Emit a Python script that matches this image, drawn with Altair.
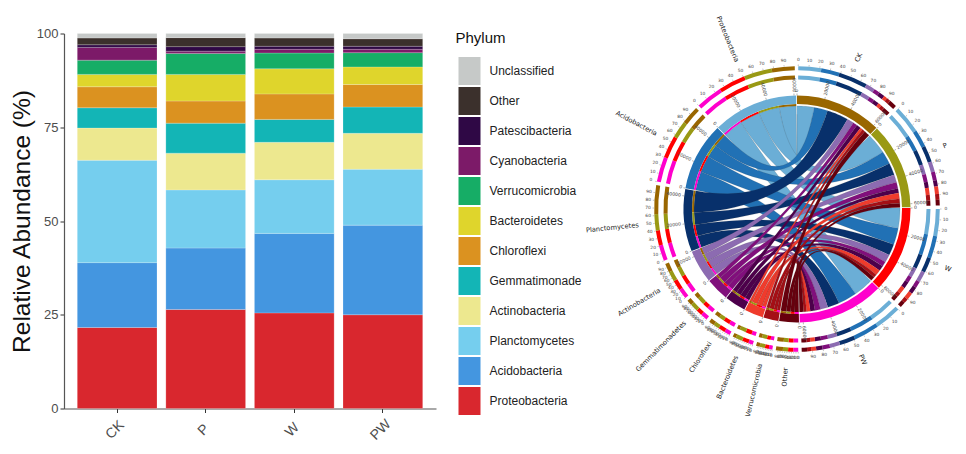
import math
import altair as alt
import pandas as pd

samples = ["CK", "P", "W", "PW"]
phyla_top = ["Unclassified", "Other", "Patescibacteria", "Cyanobacteria", "Verrucomicrobia", "Bacteroidetes",
             "Chloroflexi", "Gemmatimonadetes", "Actinobacteria", "Planctomycetes", "Acidobacteria", "Proteobacteria"]
bar_colors = ["#c6c9c8", "#3b302c", "#2f0845", "#7c1a68", "#16ad66", "#dfd52c",
              "#db9220", "#13b5b6", "#ede88f", "#75ceee", "#4496e0", "#d9272e"]
# percent per sample, bottom of the stack first
ck = [21.6, 17.3, 27.3, 8.6, 5.4, 5.6, 3.3, 3.8, 3.4, 0.7, 1.8, 1.2]
p_ = [26.4, 16.4, 15.5, 9.8, 8.0, 5.9, 7.1, 5.6, 0.6, 1.2, 2.4, 1.1]
w_ = [25.5, 21.2, 14.3, 10.0, 6.1, 6.8, 6.7, 4.2, 1.0, 0.8, 2.2, 1.2]
pw = [25.0, 23.9, 14.9, 9.6, 7.0, 6.0, 4.7, 3.8, 0.9, 0.8, 2.0, 1.4]
table = dict(zip(samples, [ck, p_, w_, pw]))

chord_phyla = ["Proteobacteria", "Acidobacteria", "Planctomycetes", "Actinobacteria", "Gemmatimonadetes",
               "Chloroflexi", "Bacteroidetes", "Verrucomicrobia", "Other"]
chord_colors = ["#6baed6", "#2171b5", "#08306b", "#8c6bb1", "#810f7c", "#4d004b", "#ef3b2c", "#a50f15", "#67000d"]
sample_colors = ["#996600", "#999914", "#ff0000", "#ff00cc"]
counts_per_pct = 625
main_ticks = [0, 20000, 40000, 60000]
pct_ticks = [0, 10, 20, 30, 40, 50, 60, 70, 80, 90]

FONT = "Liberation Sans"
FONT2 = "DejaVu Sans"

# ---------- left: stacked bars ----------
bottom_first = phyla_top[::-1]
rows = []
for s in samples:
    for i, ph in enumerate(bottom_first):
        rows.append({"sample": s, "phylum": ph, "value": table[s][i], "rank": i})
bars = alt.Chart(pd.DataFrame(rows)).mark_bar(stroke="white", strokeWidth=0.4, strokeOpacity=0.5).encode(
    x=alt.X("sample:N", sort=samples,
            scale=alt.Scale(paddingInner=0.1, paddingOuter=0.15),
            axis=alt.Axis(title=None, labelAngle=-45, labelFont=FONT, labelFontSize=14, labelColor="#4d4d4d",
                          labelAlign="center", labelBaseline="middle", labelPadding=17, labelOffset=-2,
                          tickColor="#333333", tickSize=4, domainColor="#555555", domainWidth=1.2)),
    y=alt.Y("value:Q", stack="zero", scale=alt.Scale(domain=[0, 100], nice=False),
            axis=alt.Axis(title="Relative Abundance (%)", values=[0, 25, 50, 75, 100], grid=False,
                          titleFont="Liberation Sans", titleFontSize=24.5, titleFontWeight="normal", titleColor="#111111",
                          titlePadding=2, labelFont=FONT, labelFontSize=13, labelColor="#4d4d4d",
                          tickColor="#333333", tickSize=4, domainColor="#555555", domainWidth=1.2)),
    color=alt.Color("phylum:N", scale=alt.Scale(domain=phyla_top, range=bar_colors),
                    legend=alt.Legend(orient="none", legendX=391.5, legendY=-2.5, title="Phylum",
                                      titleFont=FONT, titleFontSize=15, titleFontWeight="normal", titleColor="#111111",
                                      titlePadding=11, labelFont=FONT, labelFontSize=12, labelColor="#222222",
                                      labelLimit=100, labelOffset=6, rowPadding=2, symbolSize=784,
                                      symbolType="M-0.786,-1L0.786,-1L0.786,1L-0.786,1Z", symbolStrokeWidth=0,
                                      symbolOpacity=1,
                                      labelExpr="datum.label == 'Gemmatimonadetes' ? 'Gemmatimonade' : datum.label")),
    order=alt.Order("rank:Q"),
).properties(width=372, height=375)

# ---------- right: chord diagram ----------
GAP = 0.4
unit = (360 - 13 * GAP) / 800.0
phylum_rows = {ph: [] for ph in chord_phyla}
flows = {}
for s in samples:
    t = table[s]
    vals = t[:8] + [round(sum(t[8:]), 1)]
    flows[s] = vals
    for ph, v in zip(chord_phyla, vals):
        phylum_rows[ph].append(v)

sectors = []
a = 0.0
for s, c in zip(samples, sample_colors):
    tot = sum(flows[s])
    sectors.append(dict(name=s, a0=a, a1=a + tot * unit, total=tot, color=c, kind="s"))
    a += tot * unit + GAP
for ph, c in list(zip(chord_phyla, chord_colors))[::-1]:
    tot = sum(phylum_rows[ph])
    sectors.append(dict(name=ph, a0=a, a1=a + tot * unit, total=tot, color=c, kind="p"))
    a += tot * unit + GAP
secmap = {x["name"]: x for x in sectors}


def pol(deg, r):
    t = math.radians(deg)
    return r * math.sin(t), r * math.cos(t)


R_CH = 103.0
sample_pos = {}
for s in samples:
    cur = secmap[s]["a0"]
    for ph, v in zip(chord_phyla, flows[s]):
        sample_pos[(s, ph)] = (cur, cur + v * unit)
        cur += v * unit
phyl_pos = {}
for ph in chord_phyla:
    cur = secmap[ph]["a0"]
    for s in samples[::-1]:
        v = flows[s][chord_phyla.index(ph)]
        phyl_pos[(s, ph)] = (cur, cur + v * unit)
        cur += v * unit

poly = []
strip = []
for ph in chord_phyla:
    for s in samples:
        s0, s1 = sample_pos[(s, ph)]
        p0, p1 = phyl_pos[(s, ph)]
        pts = []
        for k in range(9):
            pts.append(pol(s0 + (s1 - s0) * k / 8, R_CH))
        A = pol(s1, R_CH); B = pol(p0, R_CH)
        for k in range(1, 24):
            u = k / 24
            pts.append(((1 - u) ** 2 * A[0] + u ** 2 * B[0], (1 - u) ** 2 * A[1] + u ** 2 * B[1]))
        for k in range(9):
            pts.append(pol(p0 + (p1 - p0) * k / 8, R_CH))
        A = pol(p1, R_CH); B = pol(s0, R_CH)
        for k in range(1, 24):
            u = k / 24
            pts.append(((1 - u) ** 2 * A[0] + u ** 2 * B[0], (1 - u) ** 2 * A[1] + u ** 2 * B[1]))
        key = f"{chord_phyla.index(ph)}-{samples.index(s)}-{ph}-{s}"
        for i, (x, y) in enumerate(pts):
            poly.append({"key": key, "phylum": ph, "x": x, "y": y, "i": i})
        strip.append({"a0": p0, "a1": p1, "color": sample_colors[samples.index(s)]})

x_dom = [-212, 150]
y_dom = [-200.5, 175.5]
W, H = 362, 376
xs = alt.Scale(domain=x_dom, nice=False, zero=False)
ys = alt.Scale(domain=y_dom, nice=False, zero=False)
theta_scale = alt.Scale(domain=[0, 360], range=[0, 2 * math.pi])


def X(f="x"):
    return alt.X(f"{f}:Q", scale=xs, axis=None)


def Y(f="y"):
    return alt.Y(f"{f}:Q", scale=ys, axis=None)


def arcs(df, r, r2):
    return alt.Chart(df).mark_arc(radius=r, radius2=r2).encode(
        x=alt.X("cx:Q", scale=xs, axis=None), y=alt.Y("cy:Q", scale=ys, axis=None),
        theta=alt.Theta("a0:Q", scale=theta_scale, stack=None), theta2=alt.Theta2("a1:Q"),
        fill=alt.Fill("color:N", scale=None),
    )


ribbons = alt.Chart(pd.DataFrame(poly)).mark_line(filled=True, stroke="#333333", strokeWidth=0.25, strokeOpacity=0.6,
                                                   interpolate="linear").encode(
    x=X(), y=Y(),
    fill=alt.Fill("phylum:N", scale=alt.Scale(domain=chord_phyla, range=chord_colors), legend=None),
    detail="key:N",
    order=alt.Order("i:Q"),
)

main_df = pd.DataFrame([{"a0": x["a0"], "a1": x["a1"], "color": x["color"], "cx": 0, "cy": 0} for x in sectors])
strip_df = pd.DataFrame(strip).assign(cx=0, cy=0)

# outer composition tracks
track = []
for sec in sectors:
    if sec["kind"] == "s":
        parts = list(zip(flows[sec["name"]], chord_colors))
    else:
        idx = chord_phyla.index(sec["name"])
        parts = [(flows[s][idx], sample_colors[samples.index(s)]) for s in samples[::-1]]
    margin = 0.5
    span = sec["a1"] - sec["a0"] - 2 * margin
    tot = sum(v for v, _ in parts)
    cur = sec["a0"] + margin
    for v, c in parts:
        track.append({"a0": cur, "a1": cur + span * v / tot, "color": c, "cx": 0, "cy": 0})
        cur += span * v / tot
track_df = pd.DataFrame(track)

# ticks and labels
rules, rule_lab, pct_rules, pct_lab, names = [], [], [], [], []
for sec in sectors:
    for t in main_ticks:
        if t <= sec["total"] * counts_per_pct:
            ang = sec["a0"] + t / counts_per_pct * unit
            x1, y1 = pol(ang, 113.5); x2, y2 = pol(ang, 115.5); xt, yt = pol(ang, 117)
            rules.append({"x": x1, "y": y1, "x2": x2, "y2": y2})
            right = ang < 180
            rule_lab.append({"x": xt, "y": yt, "label": str(t), "rot": ang - 90 if right else ang - 270,
                             "al": "left" if right else "right"})
    margin = 0.5
    span = sec["a1"] - sec["a0"] - 2 * margin
    for t in pct_ticks:
        ang = sec["a0"] + margin + span * t / 100
        x1, y1 = pol(ang, 143); x2, y2 = pol(ang, 144.5); xt, yt = pol(ang, 149)
        pct_rules.append({"x": x1, "y": y1, "x2": x2, "y2": y2})
        pct_lab.append({"x": xt, "y": yt, "label": str(t)})
    mid = (sec["a0"] + sec["a1"]) / 2
    xt, yt = pol(mid, 159)
    right = mid < 180
    names.append({"x": xt, "y": yt, "label": sec["name"], "rot": mid - 90 if right else mid - 270,
                  "al": "left" if right else "right"})


def rule_layer(data, color):
    return alt.Chart(pd.DataFrame(data)).mark_rule(color=color, strokeWidth=0.5).encode(
        x=X(), y=Y(), x2="x2:Q", y2="y2:Q")


def radial_text(data, size, color, font):
    df = pd.DataFrame(data)
    layers = []
    for al in ["left", "right"]:
        layers.append(alt.Chart(df[df["al"] == al]).mark_text(align=al, baseline="middle", fontSize=size, color=color,
                                                              font=font).encode(
            x=X(), y=Y(), text="label:N", angle=alt.Angle("rot2:Q", scale=None)))
    return layers


def fix_rot(data):
    return [dict(d, rot2=(d["rot"] + 360) % 360) for d in data]


main_text = radial_text(fix_rot(rule_lab), 4.6, "#444444", FONT2)
name_text = radial_text(fix_rot(names), 6.7, "#222222", FONT2)
pct_text = alt.Chart(pd.DataFrame(pct_lab)).mark_text(fontSize=4.4, color="#444444", font=FONT2, baseline="middle").encode(
    x=X(), y=Y(), text="label:N")

chord = alt.layer(
    ribbons,
    arcs(strip_df, 105, 103),
    arcs(main_df, 113.5, 105),
    arcs(track_df, 133.5, 129.5),
    arcs(track_df, 142.8, 138.8),
    rule_layer(rules, "#666666"),
    rule_layer(pct_rules, "#888888"),
    pct_text,
    *main_text,
    *name_text,
).properties(width=W, height=H)

chart = alt.hconcat(bars, chord, spacing=2).resolve_scale(color="independent", x="independent", y="independent").properties(
    padding={"left": 1, "top": 6.5, "right": 0, "bottom": 0}, background="white"
).configure_view(stroke=None).configure_axis(grid=False)

chart.save("out.html", embed_options={"renderer": "svg", "actions": False})
